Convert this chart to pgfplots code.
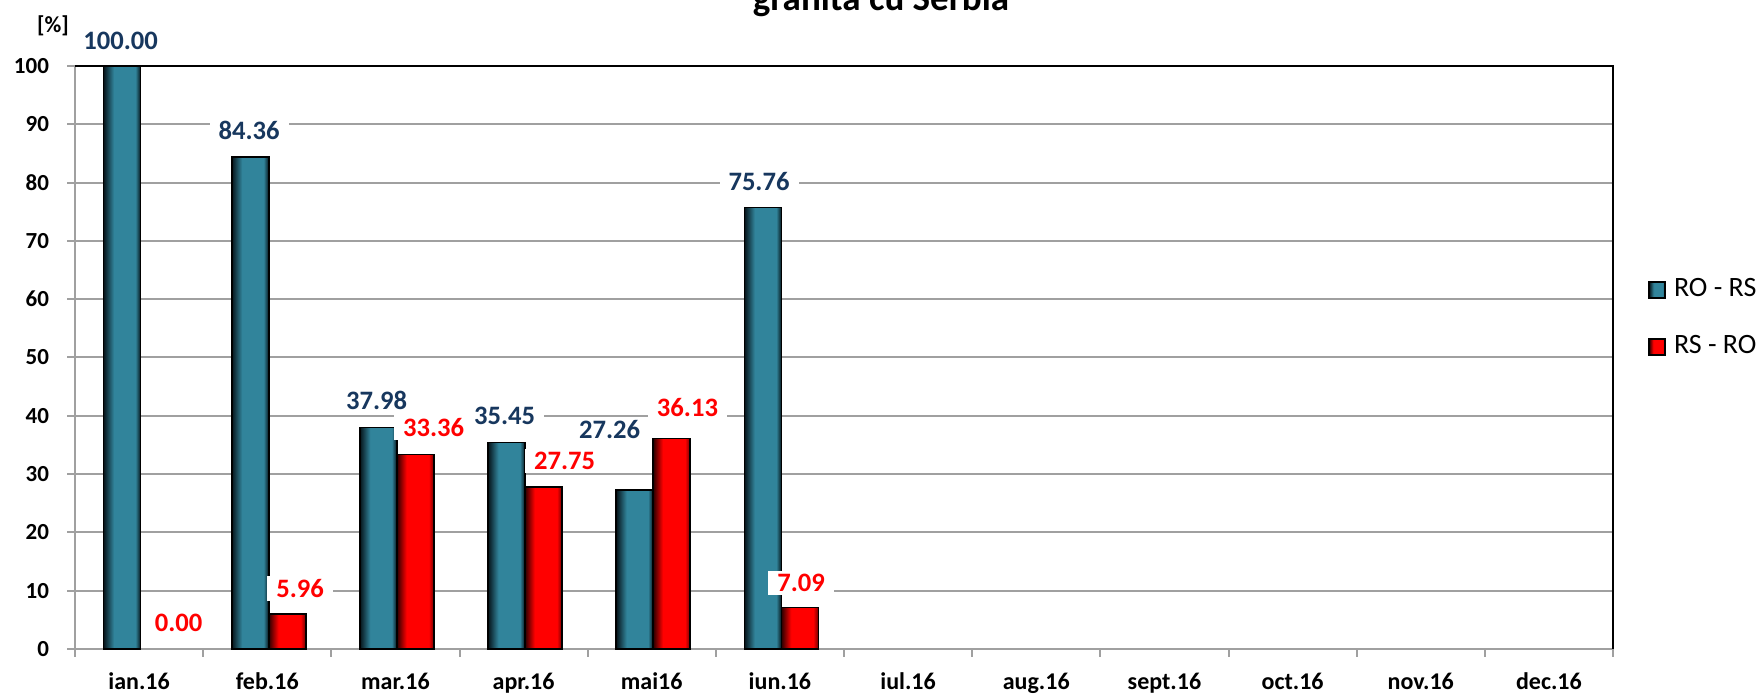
\documentclass[border=0pt]{standalone}
\usepackage{fontspec}
\setmainfont{Carlito}
\usepackage{pgfplots}
\usepackage{pgfplotstable}
\pgfplotsset{compat=1.18}
\definecolor{bbmid}{RGB}{49,132,155}
\definecolor{bbdark}{RGB}{6,20,26}
\definecolor{rrmid}{RGB}{255,0,0}
\definecolor{rrdark}{RGB}{45,0,0}
\definecolor{rrend}{RGB}{110,0,0}
\definecolor{lblblue}{RGB}{23,55,94}
\definecolor{gridgray}{RGB}{160,160,160}
\pgfdeclarehorizontalshading{bluebar}{100bp}{color(0bp)=(bbdark); color(25bp)=(bbdark); color(39bp)=(bbmid); color(68bp)=(bbmid); color(75bp)=(bbdark); color(100bp)=(bbdark)}
\pgfdeclarehorizontalshading{redbar}{100bp}{color(0bp)=(rrdark); color(25bp)=(rrdark); color(38bp)=(rrmid); color(68bp)=(rrmid); color(75bp)=(rrend); color(100bp)=(rrend)}
\tikzset{lbl/.style={anchor=center, font=\bfseries\fontsize{13.3}{15}\selectfont, fill=white, inner xsep=4.5pt, inner ysep=1.5pt}}

\pgfplotstableread{
x y
0 100
1 84.36
2 37.98
3 35.45
4 27.26
5 75.76
}\rors
\pgfplotstableread{
x y
0 0
1 5.96
2 33.36
3 27.75
4 36.13
5 7.09
}\rsro
\pgfplotstableread{
x y label
-0.144 104.3 100.00
0.858 88.9 84.36
1.853 42.7 37.98
2.852 40.0 35.45
3.671 37.7 27.26
4.837 80.1 75.76
}\rorslab
\pgfplotstableread{
x y label
0.308 4.46 0.00
1.256 10.4 5.96
2.298 38.0 33.36
3.320 32.2 27.75
4.279 41.5 36.13
5.165 11.3 7.09
}\rsrolab

\begin{document}
\begin{tikzpicture}
\useasboundingbox (-37.5pt,-23pt) rectangle (843pt,324.5pt);
\begin{scope}[overlay]
\clip (-37.5pt,-23pt) rectangle (843pt,324.5pt);
\begin{axis}[
  at={(0pt,0pt)}, anchor=south west,
  scale only axis, width=769pt, height=291.5pt,
  xmin=-0.5, xmax=11.5, ymin=0, ymax=100,
  clip=false,
  xtick={-0.5,0.5,...,11.5}, xticklabels={},
  extra x ticks={0,1,...,11},
  extra x tick labels={ian.16,feb.16,mar.16,apr.16,mai16,iun.16,iul.16,aug.16,sept.16,oct.16,nov.16,dec.16},
  extra x tick style={major tick length=0pt, grid=none,
    xticklabel style={anchor=center, yshift=-17.5pt, text height=8pt, text depth=2pt}},
  ytick={0,10,...,100},
  ymajorgrids, grid style={gridgray, line width=1pt},
  tick align=outside, major tick length=4pt,
  tick style={gridgray, line width=1pt},
  axis line style={gridgray, line width=1pt},
  axis x line*=bottom, axis y line*=left,
  /pgf/number format/assume math mode=true,
  ticklabel style={font=\bfseries\fontsize{12}{14}\selectfont, text=black},
  yticklabel style={font=\bfseries\fontsize{11.5}{13}\selectfont, xshift=-5.5pt},
  legend style={at={(1,0.567)}, anchor=west, xshift=17.5pt, draw=none, fill=none,
    inner sep=0pt, row sep=17.5pt, column sep=4pt,
    font=\fontsize{14}{16}\selectfont,
    nodes={inner sep=0pt, text height=9pt, text depth=2pt}},
  legend cell align=left,
  legend image code/.code={\draw[#1, draw=black, line width=0.8pt] (0pt,-4pt) rectangle (8pt,4pt);},
]
\addplot[only marks, mark=none, forget plot, nodes near coords, point meta=explicit symbolic,
  every node near coord/.style={lbl, text=lblblue}]
  table[x=x, y=y, meta=label] {\rorslab};
\addplot[only marks, mark=none, forget plot, nodes near coords, point meta=explicit symbolic,
  every node near coord/.style={lbl, text=rrmid}]
  table[x=x, y=y, meta=label] {\rsrolab};
\pgfplotsinvokeforeach{0,...,5}{
\addplot[ybar, bar width=18.5pt, bar shift=-8.5pt, shading=bluebar, draw=black, line width=0.8pt,
  forget plot, x filter/.expression={abs(x-#1)<0.1 ? x : nan}]
  table[x=x, y=y] {\rors};
}
\pgfplotsinvokeforeach{1,...,5}{
\addplot[ybar, bar width=18.5pt, bar shift=10pt, shading=redbar, draw=black, line width=0.8pt,
  forget plot, x filter/.expression={abs(x-#1)<0.1 ? x : nan}]
  table[x=x, y=y] {\rsro};
}
\addlegendimage{shading=bluebar}
\addlegendentry{RO - RS}
\addlegendimage{shading=redbar}
\addlegendentry{RS - RO}
\draw[black, line width=1pt] (rel axis cs:0,1) -- (rel axis cs:1,1) -- (rel axis cs:1,0);
\end{axis}
\node[font=\bfseries\fontsize{18.5}{22}\selectfont, anchor=base] at (403pt,319pt) {granita cu Serbia};
\node[font=\bfseries\fontsize{11.5}{13}\selectfont] at (-11pt,311.5pt) {[\%]};
\end{scope}
\end{tikzpicture}
\end{document}
